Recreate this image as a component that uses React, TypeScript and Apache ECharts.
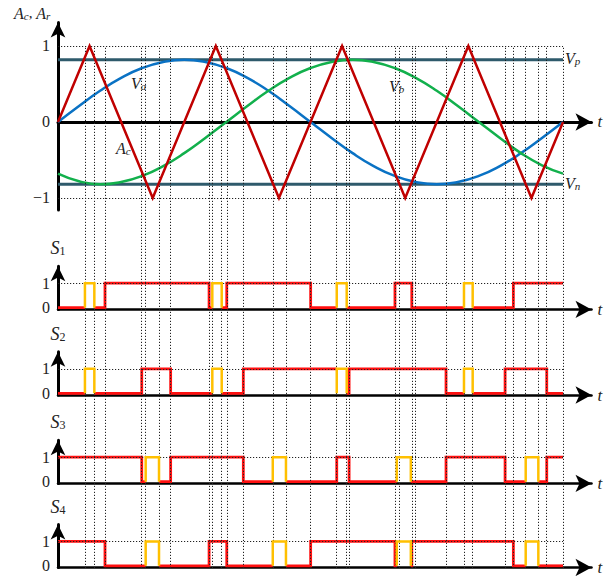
import React, { useEffect, useRef } from "react";
import * as echarts from "echarts";

const SERIF = "Liberation Serif";
const X_MAX = 380.3;

// carrier triangle vertices (degrees, value)
const carrierPts = [[0, 0], [22.5, 1], [67.5, -1], [112.5, 1], [157.5, -1], [202.5, 1], [247.5, -1], [292.5, 1], [337.5, -1], [360, 0]];
// reference phase a (read every 15 deg)
const vaPts = [[0, 0], [15, 0.21], [30, 0.41], [45, 0.58], [60, 0.71], [75, 0.79], [90, 0.82], [105, 0.79], [120, 0.71], [135, 0.58], [150, 0.41], [165, 0.21], [180, 0], [195, -0.21], [210, -0.41], [225, -0.58], [240, -0.71], [255, -0.79], [270, -0.82], [285, -0.79], [300, -0.71], [315, -0.58], [330, -0.41], [345, -0.21], [360, 0]];
// reference phase b
const vbPts = [[0, -0.68], [15, -0.78], [30, -0.82], [45, -0.79], [60, -0.71], [75, -0.58], [90, -0.41], [105, -0.21], [120, 0], [135, 0.21], [150, 0.41], [165, 0.58], [180, 0.71], [195, 0.79], [210, 0.82], [225, 0.79], [240, 0.71], [255, 0.58], [270, 0.41], [285, 0.21], [300, 0], [315, -0.21], [330, -0.41], [345, -0.57], [360, -0.68]];
const VP = 0.82;
const VN = -0.82;

// switching instants (dotted guides)
const switchTimes = [19.2, 25.9, 33.5, 59.7, 62.5, 72.0, 80.3, 107.7, 110.0, 116.7, 120.3, 132.1, 153.1, 162.5, 180.1, 198.7, 205.8, 207.5, 240.2, 243.3, 252.2, 254.5, 276.6, 289.4, 295.6, 318.7, 324.6, 333.4, 342.4, 348.4, 360];

// red segments: [start, end, level]
const s1Red = [[0, 19.2, 0], [25.9, 33.5, 0], [33.5, 107.7, 1], [107.7, 110.0, 0], [116.7, 120.3, 0], [120.3, 180.1, 1], [180.1, 198.7, 0], [205.8, 240.2, 0], [240.2, 252.2, 1], [252.2, 289.4, 0], [295.6, 324.6, 0], [324.6, 360, 1]];
const s1Orange = [[19.2, 25.9], [110.0, 116.7], [198.7, 205.8], [289.4, 295.6]];

const s2Red = [[0, 19.2, 0], [25.9, 59.7, 0], [59.7, 80.3, 1], [80.3, 110.0, 0], [116.7, 132.1, 0], [132.1, 198.7, 1], [205.8, 207.5, 0], [207.5, 276.6, 1], [276.6, 289.4, 0], [295.6, 318.7, 0], [318.7, 348.4, 1], [348.4, 360, 0]];
const s2Orange = [[19.2, 25.9], [110.0, 116.7], [198.7, 205.8], [289.4, 295.6]];

const s3Red = [[0, 59.7, 1], [59.7, 62.5, 0], [72.0, 80.3, 0], [80.3, 132.1, 1], [132.1, 153.1, 0], [162.5, 198.7, 0], [198.7, 207.5, 1], [207.5, 241.5, 0], [251.5, 276.6, 0], [276.6, 318.7, 1], [318.7, 333.4, 0], [342.4, 348.4, 0], [348.4, 360, 1]];
const s3Orange = [[62.5, 72.0], [153.1, 162.5], [241.5, 251.5], [333.4, 342.4]];

const s4Red = [[0, 33.5, 1], [33.5, 62.5, 0], [72.0, 107.7, 0], [107.7, 120.3, 1], [120.3, 153.1, 0], [162.5, 180.1, 0], [180.1, 240.2, 1], [240.2, 241.5, 0], [251.5, 252.2, 0], [252.2, 324.6, 1], [324.6, 333.4, 0], [342.4, 360, 0]];
const s4Orange = [[62.5, 72.0], [153.1, 162.5], [241.5, 251.5], [333.4, 342.4]];

const sNames = ["1", "2", "3", "4"];
const sReds = [s1Red, s2Red, s3Red, s4Red];
const sOranges = [s1Orange, s2Orange, s3Orange, s4Orange];
const sZeros = [307.7, 393.3, 481.7, 566];

function buildRuns(segs: number[][]) {
  const runs: number[][][] = [];
  let cur: number[][] | null = null;
  let prevEnd: number | null = null;
  for (const [a, b, l] of segs) {
    if (cur && prevEnd !== null && Math.abs(prevEnd - a) < 1e-6) {
      const last = cur[cur.length - 1];
      if (last[1] !== l) cur.push([a, l]);
      cur.push([b, l]);
    } else {
      cur = [[a, l], [b, l]];
      runs.push(cur);
    }
    prevEnd = b;
  }
  return runs.map((c) => ({ coords: c }));
}

function buildPulses(p: number[][]) {
  return p.map(([a, b]) => ({ coords: [[a, 0], [a, 1], [b, 1], [b, 0]] }));
}

const rich = {
  v: { fontFamily: SERIF, fontStyle: "italic", fontSize: 16, lineHeight: 16, padding: [0, 0, 6, 0], verticalAlign: "top", color: "#222" },
  s: { fontFamily: SERIF, fontStyle: "italic", fontSize: 11, lineHeight: 11, verticalAlign: "bottom", color: "#222" },
  S: { fontFamily: SERIF, fontStyle: "italic", fontSize: 18, lineHeight: 18, padding: [0, 0, 5, 0], verticalAlign: "top", color: "#222" },
  n: { fontFamily: SERIF, fontSize: 12, lineHeight: 12, verticalAlign: "bottom", color: "#222" },
  c: { fontFamily: SERIF, fontSize: 15, lineHeight: 16, padding: [0, 0, 6, 0], verticalAlign: "top", color: "#222" },
};

export default function App() {
  const ref = useRef<HTMLDivElement>(null);
  useEffect(() => {
    if (!ref.current) return;
    const chart = echarts.init(ref.current, null, { renderer: "svg" });
    const LEFT = 58;
    const WIDTH = 533.5;
    const grids: any[] = [
      { left: LEFT, width: WIDTH, top: 46, height: 522 },
      { left: LEFT, width: WIDTH, top: 22.5, height: 187.5 },
    ];
    sZeros.forEach((z) => grids.push({ left: LEFT, width: WIDTH, top: z - 41.5, height: 43.2 }));

    const axisLine = (w: number, sym: number[]) => ({
      show: true,
      onZero: true,
      symbol: ["none", "arrow"],
      symbolSize: sym,
      lineStyle: { color: "#000", width: w },
    });
    const tName = {
      name: "t",
      nameLocation: "end" as const,
      nameGap: 6,
      nameTextStyle: { fontFamily: SERIF, fontStyle: "italic", fontSize: 17, color: "#222", align: "left", verticalAlign: "middle" },
    };

    const xAxes: any[] = [
      { type: "value", gridIndex: 0, min: 0, max: X_MAX, show: false },
      { type: "value", gridIndex: 1, min: 0, max: X_MAX, axisLine: axisLine(3, [13, 16]), axisTick: { show: false }, axisLabel: { show: false }, splitLine: { show: false }, ...tName },
    ];
    const yAxes: any[] = [
      { type: "value", gridIndex: 0, min: 0, max: 1, show: false },
      {
        type: "value", gridIndex: 1, min: -1.158, max: 1.309,
        axisLine: { ...axisLine(3, [11, 15]), onZero: false },
        axisTick: { show: false },
        splitLine: { show: false },
        axisLabel: {
          customValues: [-1, 0, 1], margin: 8,
          fontFamily: SERIF, fontSize: 16, color: "#222",
          formatter: (v: number) => (v < 0 ? "\u2212" + Math.abs(v) : String(v)),
        },
      },
    ];
    sZeros.forEach((_, i) => {
      xAxes.push({
        type: "value", gridIndex: i + 2, min: 0, max: X_MAX,
        axisLine: { ...axisLine(2.5, [13, 16]), onZero: false },
        axisTick: { show: false }, axisLabel: { show: false }, splitLine: { show: false }, ...tName,
      });
      yAxes.push({
        type: "value", gridIndex: i + 2, min: -0.07, max: 1.694,
        axisLine: { ...axisLine(3, [11, 15]), onZero: false },
        axisTick: { show: false }, splitLine: { show: false },
        axisLabel: { customValues: [0, 1], margin: 8, fontFamily: SERIF, fontSize: 16, color: "#222" },
        name: "{S|S}{n|" + sNames[i] + "}",
        nameLocation: "end",
        nameGap: 9,
        nameTextStyle: { rich },
      });
    });

    const dotted = { color: "#222", width: 1, type: [1.2, 1.8] as any };
    const series: any[] = [
      {
        type: "line", xAxisIndex: 0, yAxisIndex: 0, data: [[0, 0]], showSymbol: false,
        lineStyle: { opacity: 0 }, silent: true, z: 1,
        markLine: { silent: true, symbol: "none", label: { show: false }, lineStyle: dotted, data: switchTimes.map((t) => ({ xAxis: t })) },
      },
      {
        type: "line", xAxisIndex: 1, yAxisIndex: 1, data: [[0, VP], [360, VP]], showSymbol: false, z: 3,
        lineStyle: { color: "#2e5a6b", width: 3 },
        markLine: {
          silent: true, symbol: "none", label: { show: false }, lineStyle: dotted,
          data: [[{ coord: [0, 1] }, { coord: [360, 1] }], [{ coord: [0, -1] }, { coord: [360, -1] }]],
        },
      },
      { type: "line", xAxisIndex: 1, yAxisIndex: 1, data: [[0, VN], [360, VN]], showSymbol: false, z: 3, lineStyle: { color: "#2e5a6b", width: 3 } },
      { type: "line", xAxisIndex: 1, yAxisIndex: 1, data: vaPts, smooth: true, showSymbol: false, z: 4, lineStyle: { color: "#0a72c4", width: 2.5 } },
      { type: "line", xAxisIndex: 1, yAxisIndex: 1, data: vbPts, smooth: true, showSymbol: false, z: 4, lineStyle: { color: "#12b04c", width: 2.5 } },
      { type: "line", xAxisIndex: 1, yAxisIndex: 1, data: carrierPts, showSymbol: false, z: 5, lineStyle: { color: "#c00000", width: 2.5, join: "miter" } },
    ];
    sZeros.forEach((_, i) => {
      series.push({
        type: "line", xAxisIndex: i + 2, yAxisIndex: i + 2, data: [[0, 0]], showSymbol: false,
        lineStyle: { opacity: 0 }, silent: true, z: 2,
        markLine: { silent: true, symbol: "none", label: { show: false }, lineStyle: dotted, data: [[{ coord: [0, 1] }, { coord: [360, 1] }]] },
      });
      series.push({
        type: "lines", coordinateSystem: "cartesian2d", xAxisIndex: i + 2, yAxisIndex: i + 2, polyline: true, z: 4,
        lineStyle: { color: "#ff1010", width: 2.8, opacity: 1 },
        data: buildRuns(sReds[i]),
      });
      series.push({
        type: "lines", coordinateSystem: "cartesian2d", xAxisIndex: i + 2, yAxisIndex: i + 2, polyline: true, z: 5,
        lineStyle: { color: "#ffc000", width: 2.5, opacity: 1 },
        data: buildPulses(sOranges[i]),
      });
    });

    const lbl = (x: number, y: number, text: string) => ({
      type: "text", x, y, z: 10,
      style: { text, rich, verticalAlign: "top", align: "left", fill: "#222" },
    });

    chart.setOption({
      animation: false,
      textStyle: { fontFamily: SERIF },
      grid: grids,
      xAxis: xAxes,
      yAxis: yAxes,
      series,
      graphic: [
        lbl(14, 5, "{v|A}{s|c}{c|, }{v|A}{s|r}"),
        lbl(131, 75, "{v|V}{s|a}"),
        lbl(389, 78, "{v|V}{s|b}"),
        lbl(116, 140, "{v|A}{s|c}"),
        lbl(565, 50, "{v|V}{s|p}"),
        lbl(565, 175, "{v|V}{s|n}"),
      ],
    });
    return () => chart.dispose();
  }, []);
  return <div ref={ref} style={{ position: "fixed", left: 0, top: 0, width: 614, height: 576, background: "#fff" }} />;
}
